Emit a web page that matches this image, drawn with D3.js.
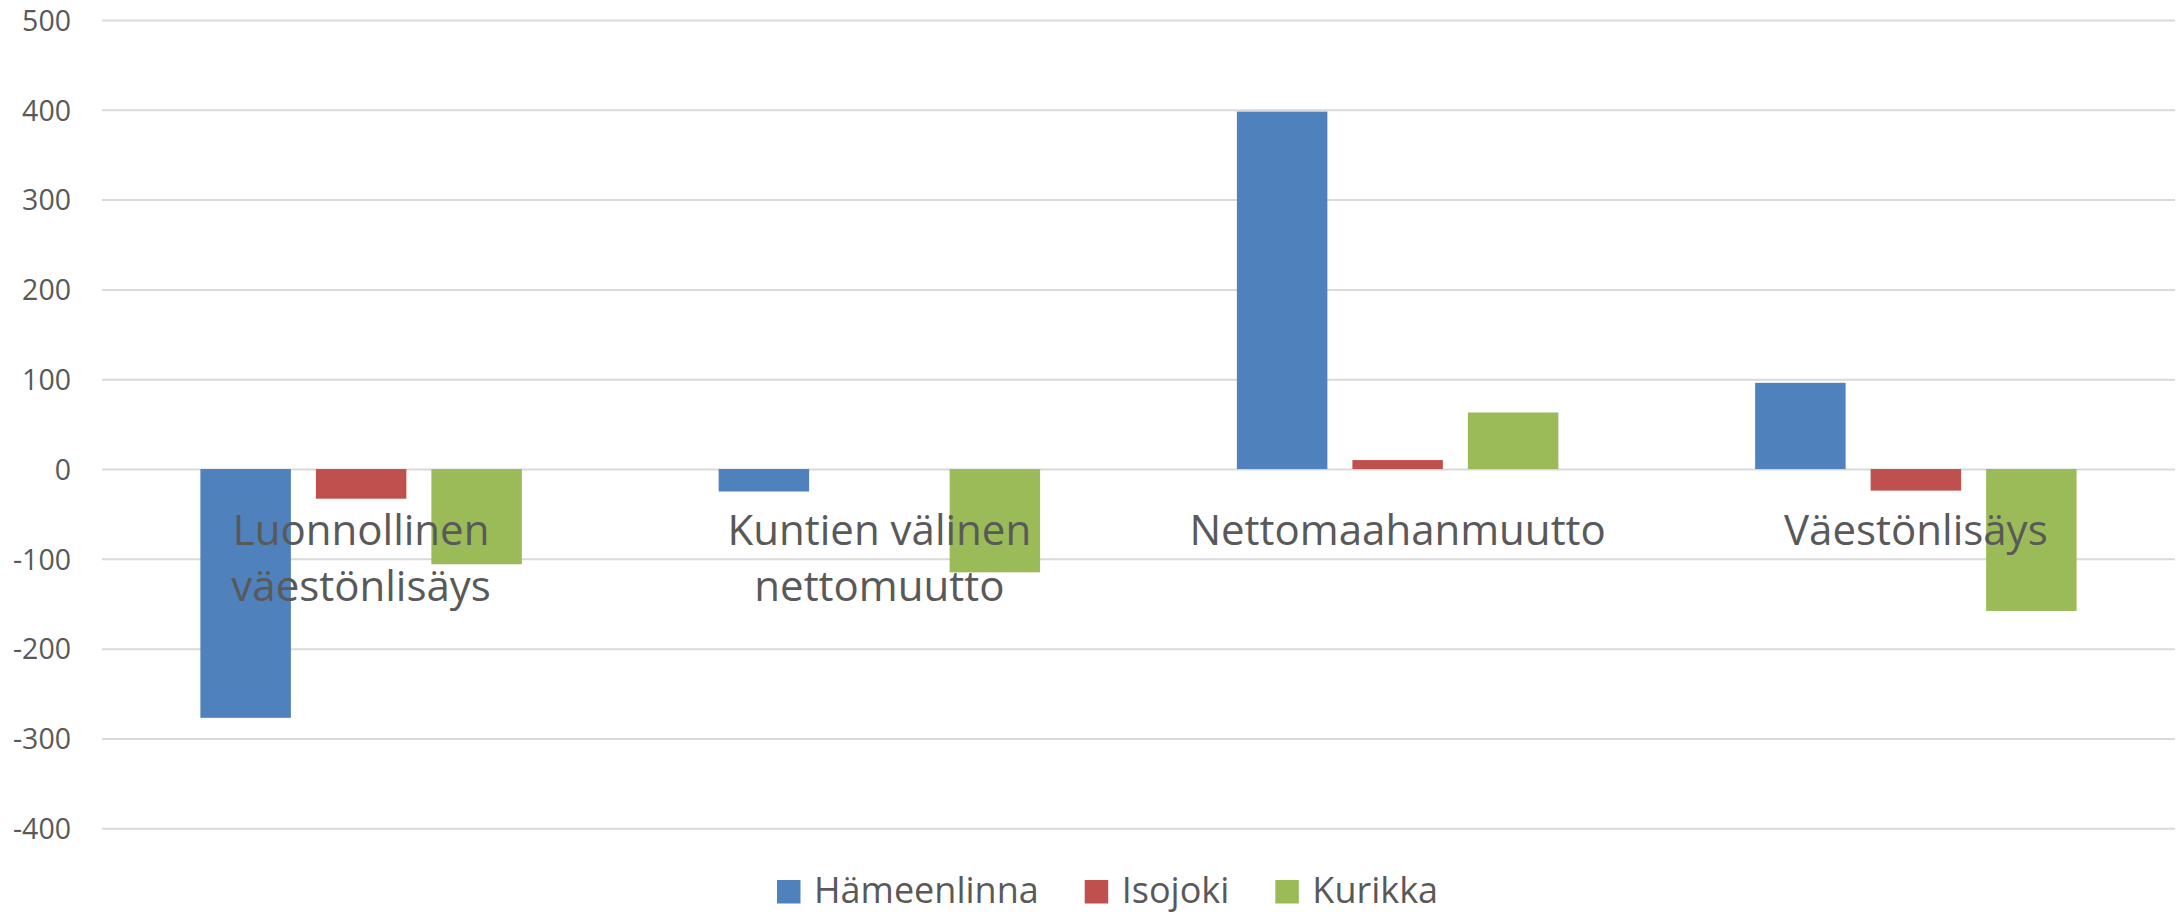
<!DOCTYPE html>
<html>
<head>
<meta charset="utf-8">
<script src="https://cdn.jsdelivr.net/npm/d3@7"></script>
<style>
  body { margin: 0; background: #fff; }
  svg { display: block; font-family: "Open Sans", "Noto Sans", sans-serif; }
</style>
</head>
<body>
<div id="chart"></div>
<script>
// categories and series
var categories = ["Luonnollinen väestönlisäys", "Kuntien välinen nettomuutto", "Nettomaahanmuutto", "Väestönlisäys"];
var seriesNames = ["Hämeenlinna", "Isojoki", "Kurikka"];
var hameenlinna = [-277, -25, 398, 96];
var isojoki = [-33, 0, 10, -24];
var kurikka = [-106, -115, 63, -158];
var yTicks = [-400, -300, -200, -100, 0, 100, 200, 300, 400, 500];
var colors = ["#4f81bd", "#c0504d", "#9bbb59"];

var values = [hameenlinna, isojoki, kurikka];
var data = categories.map(function(c, i) {
    return { category: c, values: seriesNames.map(function(s, j) { return { name: s, value: values[j][i] }; }) };
});

var width = 2176, height = 915;
var plotLeft = 102, plotRight = 2175, plotTop = 20, plotBottom = 828.3;

var svg = d3.select("#chart")
    .append("svg")
    .attr("width", width)
    .attr("height", height);

var y = d3.scaleLinear()
    .domain([-400, 500])
    .range([plotBottom, plotTop]);

var x0 = d3.scaleBand()
    .domain(categories)
    .range([plotLeft, plotRight])
    .padding(0);

var x1 = d3.scaleBand()
    .domain(seriesNames)
    .range([0, x0.bandwidth()])
    .paddingInner(0.2165)
    .paddingOuter(0.852);

var color = d3.scaleOrdinal().domain(seriesNames).range(colors);

// gridlines + y labels (plain hyphen for negatives, like Excel)
var yAxis = svg.append("g")
    .attr("transform", "translate(" + plotLeft + ",0)")
    .call(d3.axisLeft(y)
        .tickValues(yTicks)
        .tickFormat(function(d) { return String(d); })
        .tickSize(-(plotRight - plotLeft))
        .tickPadding(31));
yAxis.select(".domain").remove();
yAxis.selectAll(".tick line")
    .attr("stroke", "#d9d9d9")
    .attr("stroke-width", 2);
yAxis.selectAll(".tick text")
    .attr("fill", "#595959")
    .attr("font-size", "28.5px")
    .attr("font-family", "Open Sans, Noto Sans, sans-serif")
    .attr("dy", "0.36em");

// bars
var groups = svg.selectAll(".group")
    .data(data)
    .enter().append("g")
    .attr("class", "group")
    .attr("transform", function(d) { return "translate(" + x0(d.category) + ",0)"; });

groups.selectAll("rect")
    .data(function(d) { return d.values; })
    .enter().append("rect")
    .attr("x", function(d) { return x1(d.name); })
    .attr("width", x1.bandwidth())
    .attr("y", function(d) { return y(Math.max(0, d.value)); })
    .attr("height", function(d) { return Math.abs(y(d.value) - y(0)); })
    .attr("fill", function(d) { return color(d.name); });

// category labels (wrapped to band width, drawn over bars)
var xAxis = svg.append("g")
    .attr("transform", "translate(0," + y(0) + ")")
    .call(d3.axisBottom(x0).tickSize(0));
xAxis.select(".domain").remove();
xAxis.selectAll(".tick text")
    .attr("fill", "#595959")
    .attr("font-size", "42px")
    .attr("font-family", "Open Sans, Noto Sans, sans-serif")
    .attr("y", 76)
    .attr("dy", 0)
    .each(function(d) {
        var text = d3.select(this);
        var words = d.split(" ");
        var maxW = x0.bandwidth() - 10;
        text.text(null);
        var lines = [], line = [];
        var probe = text.append("tspan").attr("x", 0);
        words.forEach(function(w) {
            line.push(w);
            probe.text(line.join(" "));
            if (probe.node().getComputedTextLength() > maxW && line.length > 1) {
                line.pop();
                lines.push(line.join(" "));
                line = [w];
            }
        });
        lines.push(line.join(" "));
        probe.remove();
        lines.forEach(function(l, i) {
            text.append("tspan")
                .attr("x", 0)
                .attr("dy", i === 0 ? 0 : 56)
                .text(l);
        });
    });

// legend
var legend = svg.append("g").attr("class", "legend");
var lx = 777;
seriesNames.forEach(function(s) {
    var item = legend.append("g").attr("transform", "translate(" + lx + ",0)");
    item.append("rect")
        .attr("x", 0)
        .attr("y", 880)
        .attr("width", 23.5)
        .attr("height", 23.5)
        .attr("fill", color(s));
    var t = item.append("text")
        .attr("x", 37)
        .attr("y", 903)
        .attr("fill", "#595959")
        .attr("font-size", "36px")
        .text(s);
    lx += 37 + t.node().getComputedTextLength() + 46;
});
</script>
</body>
</html>
